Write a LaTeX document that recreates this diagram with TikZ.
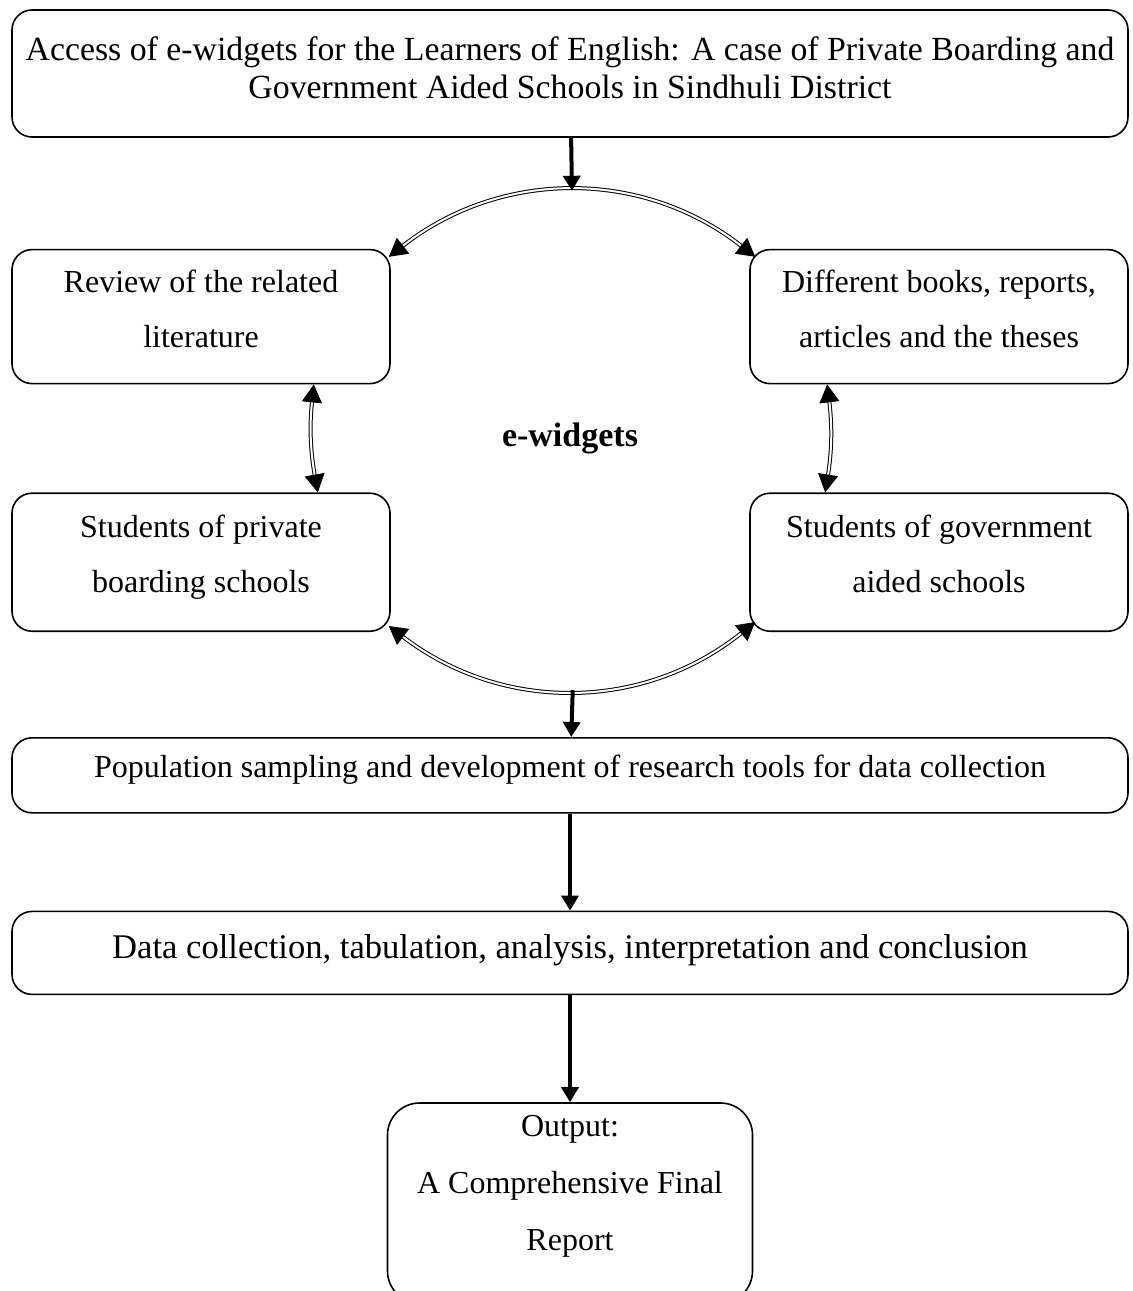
\documentclass[tikz,border=0pt]{standalone}
\usepackage{fontspec}
\setmainfont{Liberation Serif}
\usetikzlibrary{arrows.meta, positioning, calc}

\begin{document}
\begin{tikzpicture}[
  x=1pt, y=1pt,
  every node/.style={font=\fontsize{16}{19}\selectfont},
  box/.style={rectangle, rounded corners=10pt, draw, line width=0.8pt,
              align=center, inner sep=2pt},
  widebox/.style={box, minimum width=558pt},
  sidebox/.style={box, minimum width=189pt, minimum height=67pt,
                  font=\fontsize{16}{27.5}\selectfont, execute at end node=\strut},
  arr/.style={-{Triangle[length=7.5pt,width=8.5pt]}, line width=2pt},
  dbl/.style={{Triangle[length=9pt,width=10pt]}-{Triangle[length=9pt,width=10pt]},
              double, double distance=1pt, line width=0.5pt},
]
\useasboundingbox (0,0) rectangle (566,-645.5);

\node[widebox, minimum height=63.5pt, font=\fontsize{16.9}{19}\selectfont,
      execute at end node=\strut] (title) at (285,-36.75)
  {Access of e-widgets for the Learners of English: A case of Private Boarding and\\
   Government Aided Schools in Sindhuli District};
\node[sidebox, below right=55.5pt and 0pt of title.south west] (rev)
  {Review of the related\\literature};
\node[sidebox, below left=55.5pt and 0pt of title.south east] (dif)
  {Different books, reports,\\articles and the theses};
\node[sidebox, minimum height=69pt, below=54pt of rev] (stp)
  {Students of private\\boarding schools};
\node[sidebox, minimum height=69pt, below=54pt of dif] (stg)
  {Students of government\\aided schools};
\node[font=\fontsize{17}{19}\selectfont\bfseries] (hub)
  at ($(rev.south east)!0.5!(stg.north west)$) {e-widgets};
\node[widebox, minimum height=37.5pt, text height=11.5pt, text depth=9pt,
      below right=52.5pt and 0pt of stp.south west] (pop)
  {Population sampling and development of research tools for data collection};
\node[widebox, minimum height=41.5pt, font=\fontsize{17.3}{19}\selectfont,
      text height=12pt, text depth=6pt, below=48.5pt of pop] (data)
  {Data collection, tabulation, analysis, interpretation and conclusion};
\node[box, rounded corners=16pt, minimum width=182.5pt, minimum height=100pt,
      below=53.5pt of data,
      label={[align=center, font=\fontsize{16}{28.5}\selectfont, yshift=8.5pt]center:{Output:\\A Comprehensive Final\\Report}}] (out) {};

% curved double connectors
\draw[dbl] ([shift={(-1,-4)}]rev.north east) to[bend left=38]
  coordinate[pos=0.5] (arctop) ([shift={(3,-4)}]dif.north west);
\draw[dbl] ([shift={(-1,3)}]stp.south east) to[bend right=38]
  coordinate[pos=0.5] (arcbot) ([shift={(3,5)}]stg.south west);
\draw[dbl] ($(rev.south east)+(-38.5,0)$) to[bend right=8] ($(stp.north east)+(-36.5,0)$);
\draw[dbl] ($(dif.south west)+(39,0)$) to[bend left=8] ($(stg.north west)+(38,0)$);

% straight flow
\draw[arr] (title) -- (arctop);
\draw[arr] (arcbot) -- (pop);
\draw[arr] (pop) -- (data);
\draw[arr] (data) -- (out);
\end{tikzpicture}
\end{document}
